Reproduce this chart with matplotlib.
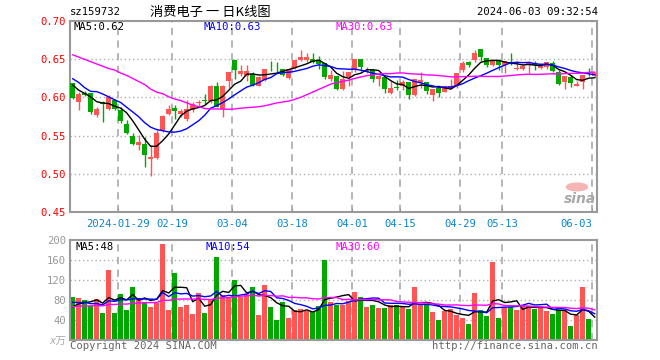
import numpy as np
import matplotlib
matplotlib.use("Agg")
import matplotlib.pyplot as plt

# ---------------- data ----------------
opens = [0.6184, 0.5943, 0.6052, 0.6057, 0.5776, 0.5938, 0.5846, 0.5973, 0.5833, 0.5649,
         0.5500, 0.5370, 0.5386, 0.5197, 0.5206, 0.5570, 0.5780, 0.5864, 0.5789, 0.5714,
         0.5833, 0.5925, 0.5965, 0.5960, 0.6144, 0.5846, 0.6219, 0.6495, 0.6311, 0.6276,
         0.6306, 0.6157, 0.6232, 0.6399, 0.6399, 0.6377, 0.6254, 0.6385, 0.6491, 0.6491,
         0.6508, 0.6486, 0.6451, 0.6245, 0.6276, 0.6113, 0.6263, 0.6355, 0.6504, 0.6340,
         0.6355, 0.6245, 0.6263, 0.6056, 0.6131, 0.6144, 0.6201, 0.6026, 0.6201, 0.6201,
         0.6034, 0.6122, 0.6069, 0.6113, 0.6144, 0.6355, 0.6460, 0.6486, 0.6635, 0.6517,
         0.6420, 0.6473, 0.6429, 0.6462, 0.6372, 0.6377, 0.6420, 0.6451, 0.6385, 0.6394,
         0.6451, 0.6333, 0.6197, 0.6267, 0.6157, 0.6197, 0.6329, 0.6280]
closes = [0.5995, 0.6044, 0.6026, 0.5811, 0.5846, 0.5908, 0.6008, 0.5850, 0.5688, 0.5535,
          0.5386, 0.5412, 0.5240, 0.5219, 0.5539, 0.5758, 0.5846, 0.5824, 0.5824, 0.5846,
          0.5912, 0.5934, 0.5956, 0.6149, 0.5881, 0.6149, 0.6333, 0.6363, 0.6341, 0.6341,
          0.6166, 0.6263, 0.6377, 0.6395, 0.6395, 0.6289, 0.6377, 0.6486, 0.6530, 0.6526,
          0.6464, 0.6442, 0.6267, 0.6298, 0.6113, 0.6245, 0.6333, 0.6504, 0.6394, 0.6342,
          0.6245, 0.6284, 0.6113, 0.6122, 0.6127, 0.6201, 0.6026, 0.6240, 0.6223, 0.6087,
          0.6109, 0.6065, 0.6144, 0.6144, 0.6320, 0.6451, 0.6420, 0.6583, 0.6530, 0.6420,
          0.6482, 0.6420, 0.6473, 0.6458, 0.6377, 0.6407, 0.6451, 0.6429, 0.6429, 0.6460,
          0.6341, 0.6179, 0.6284, 0.6188, 0.6179, 0.6298, 0.6315, 0.6315]
highs = [0.6190, 0.6074, 0.6088, 0.6057, 0.5877, 0.5950, 0.6030, 0.5980, 0.5877, 0.5710,
         0.5535, 0.5504, 0.5480, 0.5370, 0.5570, 0.5767, 0.5900, 0.5900, 0.5846, 0.5965,
         0.5943, 0.5965, 0.6043, 0.6162, 0.6200, 0.6162, 0.6333, 0.6495, 0.6430, 0.6430,
         0.6340, 0.6276, 0.6377, 0.6482, 0.6464, 0.6377, 0.6377, 0.6495, 0.6626, 0.6583,
         0.6583, 0.6539, 0.6451, 0.6364, 0.6276, 0.6341, 0.6333, 0.6504, 0.6504, 0.6394,
         0.6372, 0.6284, 0.6263, 0.6210, 0.6232, 0.6232, 0.6201, 0.6240, 0.6333, 0.6201,
         0.6109, 0.6144, 0.6144, 0.6245, 0.6320, 0.6473, 0.6473, 0.6626, 0.6635, 0.6517,
         0.6482, 0.6495, 0.6473, 0.6583, 0.6473, 0.6438, 0.6473, 0.6473, 0.6451, 0.6460,
         0.6473, 0.6364, 0.6284, 0.6298, 0.6210, 0.6298, 0.6385, 0.6329]
lows = [0.5980, 0.5833, 0.6020, 0.5780, 0.5745, 0.5680, 0.5840, 0.5830, 0.5670, 0.5517,
        0.5373, 0.5307, 0.5087, 0.4965, 0.5190, 0.5548, 0.5767, 0.5715, 0.5745, 0.5693,
        0.5810, 0.5890, 0.5912, 0.5930, 0.5877, 0.5740, 0.6130, 0.6245, 0.6276, 0.6220,
        0.6144, 0.6144, 0.6220, 0.6342, 0.6330, 0.6276, 0.6240, 0.6370, 0.6473, 0.6464,
        0.6451, 0.6377, 0.6245, 0.6219, 0.6100, 0.6100, 0.6157, 0.6330, 0.6341, 0.6320,
        0.6200, 0.6144, 0.6056, 0.6047, 0.6100, 0.6100, 0.5982, 0.6020, 0.6122, 0.6043,
        0.5947, 0.6000, 0.6069, 0.6113, 0.6130, 0.6340, 0.6394, 0.6464, 0.6473, 0.6403,
        0.6410, 0.6363, 0.6320, 0.6429, 0.6355, 0.6355, 0.6320, 0.6364, 0.6370, 0.6380,
        0.6330, 0.6166, 0.6113, 0.6131, 0.6144, 0.6113, 0.6276, 0.6270]
volumes = [86.7, 84.7, 80, 68, 82, 54, 140.7, 54, 92.7, 60,
           106.7, 84.7, 76.7, 66.7, 74.7, 192, 60, 134, 66.7, 70,
           52.7, 94.7, 54, 82, 166, 90, 83.3, 120, 86.7, 91.3,
           106.7, 49.3, 110, 66.7, 40, 76.7, 44, 60, 62, 58.7,
           55.3, 68, 160.7, 75.3, 70, 70, 78, 96, 86, 66,
           70, 64, 64, 70, 70, 66, 62, 106, 70, 72,
           56, 40, 58, 62, 50.7, 44, 32, 94, 60, 48.7,
           156, 44, 66, 66, 60, 70, 68, 62, 66, 58,
           52, 60, 60, 28, 50.7, 106, 42, 2]
# sessions before the window (only feed the moving averages at the left edge)
prior_closes = [0.694, 0.693, 0.671, 0.675, 0.681, 0.691, 0.645, 0.689, 0.644, 0.659,
                0.661, 0.644, 0.702, 0.674, 0.636, 0.705, 0.672, 0.642, 0.675, 0.681,
                0.653, 0.671, 0.630, 0.588, 0.621, 0.639, 0.624, 0.604, 0.616]
prior_volumes = [55, 70, 62, 58, 75, 60, 52, 66, 64, 58,
                 72, 60, 56, 68, 62, 60, 66, 58, 62, 63.7,
                 88, 76, 95, 80, 80.5, 58, 66, 60, 62.8]

tick_index = [8, 17, 27, 37, 47, 55, 65, 72, 87]
tick_labels = ["2024-01-29", "02-19", "03-04", "03-18", "04-01", "04-15", "04-29", "05-13", "06-03"]
price_ticks = [0.70, 0.65, 0.60, 0.55, 0.50, 0.45]
vol_ticks = [200, 160, 120, 80, 40]
ma_periods = [5, 10, 30]
ma_colors = ["black", "blue", "#ff00ff"]
price_ma_text = ["MA5:0.62", "MA10:0.63", "MA30:0.63"]
vol_ma_text = ["MA5:48", "MA10:54", "MA30:60"]
code = "sz159732"
title = "消费电子 一 日K线图"
stamp = "2024-06-03 09:32:54"

# ---------------- drawing ----------------
RED = "#ff5555"
GREEN = "#00a800"
GRID = "#b0b0b0"
BORDER = "#999999"
MONO = "DejaVu Sans Mono"

W, H = 660, 360
fig = plt.figure(figsize=(W / 100, H / 100), dpi=100)

def axrect(x0, y0, x1, y1):
    return [x0 / W, 1 - y1 / H, (x1 - x0) / W, (y1 - y0) / H]

axp = fig.add_axes(axrect(70, 21.3, 597, 211.7))
axv = fig.add_axes(axrect(70, 240, 597, 340))

o = np.array(opens); c = np.array(closes); hi = np.array(highs); lo = np.array(lows)
v = np.array(volumes)
n = len(c)
x = np.arange(n)
up = c >= o
cols = np.where(up, RED, GREEN)

def moving(prior, vals, p):
    full = np.concatenate([prior, vals])
    out = np.convolve(full, np.ones(p) / p, mode="valid")
    return out[-len(vals):]

BW = 0.83
XL = (-0.45, 87.38)
for ax in (axp, axv):
    ax.set_xlim(*XL)
    for t in tick_index:
        ax.axvline(t - BW / 2, color=GRID, lw=1.3, ls=(0, (4, 3)), zorder=0)
    for s in ax.spines.values():
        s.set_color(BORDER)
        s.set_linewidth(1.5)

# price candles
axp.vlines(x, lo, hi, colors=cols, lw=1.0, zorder=2)
body_h = np.maximum(np.abs(c - o), 0.0011)
axp.bar(x, body_h, bottom=np.minimum(o, c), width=BW, color=cols, lw=0, zorder=3)
for p, col in zip(ma_periods, ma_colors):
    axp.plot(x, moving(np.array(prior_closes), c, p), color=col, lw=1.0, zorder=4)
axp.set_ylim(0.45, 0.70)
for yv in [0.50, 0.55, 0.60, 0.65]:
    axp.axhline(yv, color=GRID, lw=1.0, ls=(0, (1, 2)), zorder=0)
axp.set_yticks(price_ticks)
axp.set_yticklabels([f"{t:.2f}" for t in price_ticks], color="red", fontsize=7.6, family=MONO)
axp.set_xticks([t - BW / 2 for t in tick_index])
axp.set_xticklabels(tick_labels, color="#0a84cc", fontsize=7.6, family=MONO)
axp.tick_params(axis="x", length=3, color=BORDER, pad=5, direction="in")
axp.tick_params(axis="y", length=0, pad=3)
lbls = axp.get_xticklabels()
lbls[-1].set_horizontalalignment("right")
lbls[-1].set_x(tick_index[-1] - BW / 2)

for txt, col, px in zip(price_ma_text, ma_colors, [74, 204, 336]):
    fig.text(px / W, 1 - 27 / H, txt, color=col, fontsize=7.6, family=MONO, va="center")

# sina logo
axp.add_patch(plt.Circle((0.962, 0.13), 0.02, transform=axp.transAxes, color="#f5b5b5", zorder=1))
axp.text(0.968, 0.065, "sina", transform=axp.transAxes, color="#a8a8a8", fontsize=10,
         fontweight="bold", style="italic", ha="center", va="center", zorder=1)

# volume
axv.bar(x, v, width=BW, color=cols, lw=0, zorder=2)
for p, col in zip(ma_periods, ma_colors):
    axv.plot(x, moving(np.array(prior_volumes), v, p), color=col, lw=1.0, zorder=4)
axv.set_ylim(0, 200)
for yv in [40, 80, 120, 160]:
    axv.axhline(yv, color=GRID, lw=1.0, ls=(0, (1, 2)), zorder=0)
axv.set_yticks(vol_ticks)
axv.set_yticklabels([str(t) for t in vol_ticks], color="#999999", fontsize=7.6, family=MONO)
axv.tick_params(axis="y", length=0, pad=3)
axv.set_xticks([t - BW / 2 for t in tick_index])
axv.set_xticklabels([])
axv.tick_params(axis="x", length=0)
fig.text(66 / W, 1 - 341 / H, "x万", color="#aaaaaa", fontsize=7.6, ha="right", va="center",
         family=[MONO, "Noto Sans CJK SC"], style="italic")
for txt, col, px in zip(vol_ma_text, ma_colors, [75, 205, 335]):
    fig.text(px / W, 1 - 247 / H, txt, color=col, fontsize=7.6, family=MONO, va="center")

# header / footer
fig.text(70 / W, 1 - 12 / H, code, fontsize=7.6, family=MONO, va="center")
fig.text(150 / W, 1 - 12 / H, title, fontsize=9.5, family=["Noto Sans CJK SC", MONO], va="center")
fig.text(598 / W, 1 - 12 / H, stamp, fontsize=7.6, family=MONO, va="center", ha="right")
fig.text(70 / W, 1 - 346 / H, "Copyright 2024 SINA.COM", color="#666666", fontsize=7.6, family=MONO, va="center")
fig.text(598 / W, 1 - 346 / H, "http://finance.sina.com.cn", color="#666666", fontsize=7.6,
         family=MONO, va="center", ha="right")

fig.savefig("out.png", dpi=100, facecolor="white")
